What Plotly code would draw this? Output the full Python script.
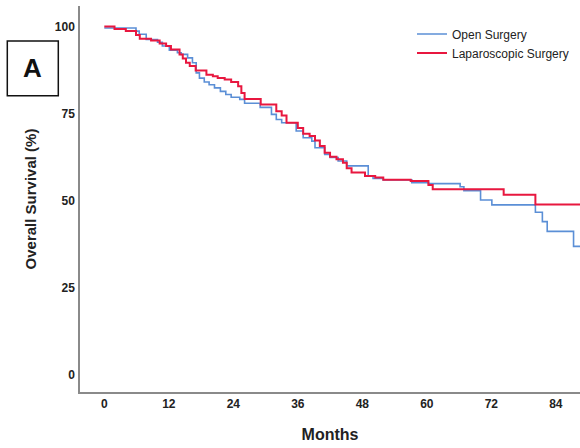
import plotly.graph_objects as go

# Kaplan-Meier step data (months, survival %)
open_t = [0, 5.9, 6.5, 7.8, 9.9, 10.8, 12.1, 13.6, 14.3, 15.5, 16.4, 17.1, 17.7, 18.6,
          19.5, 20.5, 21.6, 22.6, 23.6, 25.2, 26.1, 29.0, 31.1, 32.0, 33.0, 35.7, 37.0,
          38.6, 39.2, 41.0, 42.0, 43.5, 45.1, 49.1, 50.0, 51.9, 57.2, 60.3, 66.2, 66.9,
          70.0, 72.1, 80.2, 81.5, 82.4, 87.3, 89.0]
open_s = [99.6, 98.7, 97.8, 96.3, 95.5, 94.4, 93.2, 92.5, 92.0, 91.0, 89.6, 86.7, 85.2, 84.1,
          83.3, 82.4, 81.4, 80.5, 79.7, 79.1, 78.0, 76.8, 74.8, 73.3, 72.4, 70.0, 68.1,
          67.1, 65.2, 63.3, 62.4, 61.4, 60.0, 57.1, 56.4, 56.0, 55.2, 54.9, 54.0, 52.9,
          50.2, 48.8, 46.7, 44.0, 41.2, 36.9, 36.9]

lap_t = [0, 1.9, 4.0, 5.9, 6.6, 8.7, 10.3, 11.5, 12.4, 14.0, 14.6, 15.2, 15.9, 17.0, 19.0,
         20.2, 21.1, 22.4, 23.6, 24.9, 25.5, 26.1, 29.1, 32.0, 33.0, 33.9, 36.0, 37.0, 38.2,
         39.2, 40.1, 41.0, 42.0, 43.2, 44.4, 45.1, 46.0, 48.5, 50.4, 51.9, 57.0, 60.3, 61.1,
         74.3, 80.2, 89.0]
lap_s = [100.0, 99.3, 98.7, 97.6, 96.5, 96.0, 95.1, 94.4, 93.4, 92.0, 90.8, 89.6, 88.7, 87.4,
         86.2, 85.7, 85.2, 84.8, 84.1, 82.9, 80.9, 79.2, 77.6, 75.7, 74.5, 72.4, 70.9, 69.2,
         68.6, 67.3, 65.7, 63.8, 62.6, 61.9, 60.9, 59.3, 58.1, 57.1, 56.7, 56.0, 55.7, 54.5,
         53.3, 51.7, 48.9, 48.9]

x_ticks = [0, 12, 24, 36, 48, 60, 72, 84]
y_ticks = [0, 25, 50, 75, 100]

FONT = "Liberation Sans, Arial, sans-serif"

fig = go.Figure()
fig.add_trace(go.Scatter(x=open_t, y=open_s, mode="lines", line_shape="hv",
                         name="Open Surgery", line=dict(color="#5b8fd6", width=1.6)))
fig.add_trace(go.Scatter(x=lap_t, y=lap_s, mode="lines", line_shape="hv",
                         name="Laparoscopic Surgery", line=dict(color="#e8173f", width=2)))

fig.update_layout(
    width=580, height=448,
    margin=dict(l=80, r=0, t=6, b=56),
    paper_bgcolor="white", plot_bgcolor="white",
    font=dict(family=FONT, color="#222"),
    showlegend=True,
    legend=dict(x=0.664, y=0.965, xanchor="left", yanchor="top",
                bgcolor="rgba(0,0,0,0)", font=dict(size=12, color="#222"),
                tracegroupgap=0),
    xaxis=dict(range=[-4.52, 88.5], tickvals=x_ticks, showgrid=False, zeroline=False,
               showline=True, linecolor="#8a8a8a", linewidth=1.5, ticks="",
               tickfont=dict(size=12, family=FONT, color="#222", weight="bold"),
               title=dict(text="<b>Months</b>", font=dict(size=16), standoff=19)),
    yaxis=dict(range=[-4.9, 105.9], tickvals=y_ticks, showgrid=False, zeroline=False,
               showline=True, linecolor="#8a8a8a", linewidth=1.5, ticks="",
               tickfont=dict(size=12, family=FONT, color="#222", weight="bold"),
               ticklabelstandoff=1,
               title=dict(text="<b>Overall Survival (%)</b>", font=dict(size=15), standoff=15)),
)

fig.add_shape(type="rect", xref="paper", yref="paper",
              x0=-0.1454, x1=-0.0434, y0=0.7676, y1=0.9093,
              line=dict(color="#111", width=1.5), fillcolor="white")
fig.add_annotation(text="<b>A</b>", xref="paper", yref="paper",
                   x=-0.0944, y=0.8385, xanchor="center", yanchor="middle",
                   showarrow=False,
                   font=dict(size=26, family=FONT, color="#111"))

fig.write_html("out.html")
